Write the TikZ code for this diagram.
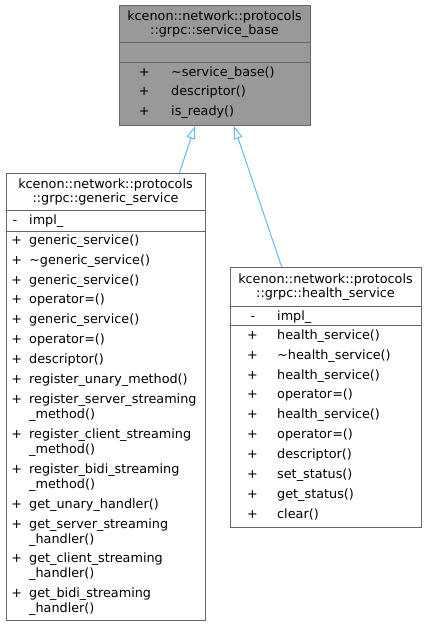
\documentclass[tikz,border=0pt]{standalone}
\usepackage{fontspec}
\setmainfont{DejaVu Sans}
\usetikzlibrary{arrows.meta}
\definecolor{edgegray}{HTML}{666666}
\definecolor{basefill}{HTML}{999999}
\definecolor{inhblue}{HTML}{63B8FF}
\begin{document}
\begin{tikzpicture}[x=1pt,y=-1pt, font=\fontsize{12.8}{14.5}\selectfont,
 classbox/.style={draw=edgegray, line width=1pt, rectangle, inner sep=0pt, anchor=north west},
 sep/.style={draw=edgegray, line width=1pt},
 mem/.style={anchor=mid west, inner sep=0pt, yshift=-1.5pt},
 vis/.style={anchor=mid, inner sep=0pt, yshift=-1.5pt},
 ttl/.style={anchor=center, inner sep=0pt, align=center},
 inhline/.style={draw=inhblue, line width=1pt, -{Triangle[open, length=13pt, width=9pt]}}]
\useasboundingbox (0,0) rectangle (426,627);

% base class
\node[classbox, fill=basefill, minimum width=191pt, minimum height=120pt] (base) at (119,5) {};
\draw[sep] (119,42.5) -- (310,42.5);
\draw[sep] (119,62.3) -- (310,62.3);
\node[ttl] (bt) at (214.5,24) {kcenon::network::protocols\\::grpc::service\_base};
\foreach \y/\t [count=\i] in {72/{\textasciitilde service\_base()},91.5/{descriptor()},111/{is\_ready()}} {
  \node[vis] (bv\i) at (144.3,\y) {+};
  \node[mem] (bm\i) at (171,\y) {\t};
}

% generic_service
\node[classbox, fill=white, minimum width=199pt, minimum height=447pt] (gen) at (6,173) {};
\draw[sep] (6,210.7) -- (205,210.7);
\draw[sep] (6,231) -- (205,231);
\node[ttl] (gt) at (105.5,192) {kcenon::network::protocols\\::grpc::generic\_service};
\node[vis] (gv0) at (15,220.5) {-};
\node[mem] (gm0) at (29,220.5) {impl\_};
\foreach \y/\t [count=\i] in {
  240/{generic\_service()},
  259.9/{\textasciitilde generic\_service()},
  279.8/{generic\_service()},
  299.7/{operator=()},
  319.6/{generic\_service()},
  339.5/{operator=()},
  359.4/{descriptor()},
  379.3/{register\_unary\_method()},
  399.2/{register\_server\_streaming},
  434.1/{register\_client\_streaming},
  469/{register\_bidi\_streaming},
  503.9/{get\_unary\_handler()},
  523.8/{get\_server\_streaming},
  558.7/{get\_client\_streaming},
  593.6/{get\_bidi\_streaming}} {
  \node[vis] (gv\i) at (16.7,\y) {+};
  \node[mem] (gm\i) at (29,\y) {\t};
}
\foreach \y/\t [count=\i] in {
  414.2/{\_method()},
  449.1/{\_method()},
  484/{\_method()},
  538.8/{\_handler()},
  573.7/{\_handler()},
  608.6/{\_handler()}} {
  \node[mem] (gc\i) at (29,\y) {\t};
}

% health_service
\node[classbox, fill=white, minimum width=191pt, minimum height=260pt] (hs) at (230,267) {};
\draw[sep] (230,306) -- (421,306);
\draw[sep] (230,325) -- (421,325);
\node[ttl] (ht) at (325.5,287) {kcenon::network::protocols\\::grpc::health\_service};
\node[vis] (hv0) at (253,316) {-};
\node[mem] (hm0) at (277,316) {impl\_};
\foreach \y/\t [count=\i] in {
  335/{health\_service()},
  354.9/{\textasciitilde health\_service()},
  374.8/{health\_service()},
  394.7/{operator=()},
  414.6/{health\_service()},
  434.5/{operator=()},
  454.4/{descriptor()},
  474.3/{set\_status()},
  494.2/{get\_status()},
  514.1/{clear()}} {
  \node[vis] (hv\i) at (252.5,\y) {+};
  \node[mem] (hm\i) at (277,\y) {\t};
}

% inheritance
\draw[inhline] ([xshift=173.3pt]gen.north west) -- ([xshift=76pt]base.south west);
\draw[inhline] ([xshift=51.7pt]hs.north west) -- ([xshift=115pt]base.south west);
\end{tikzpicture}
\end{document}
